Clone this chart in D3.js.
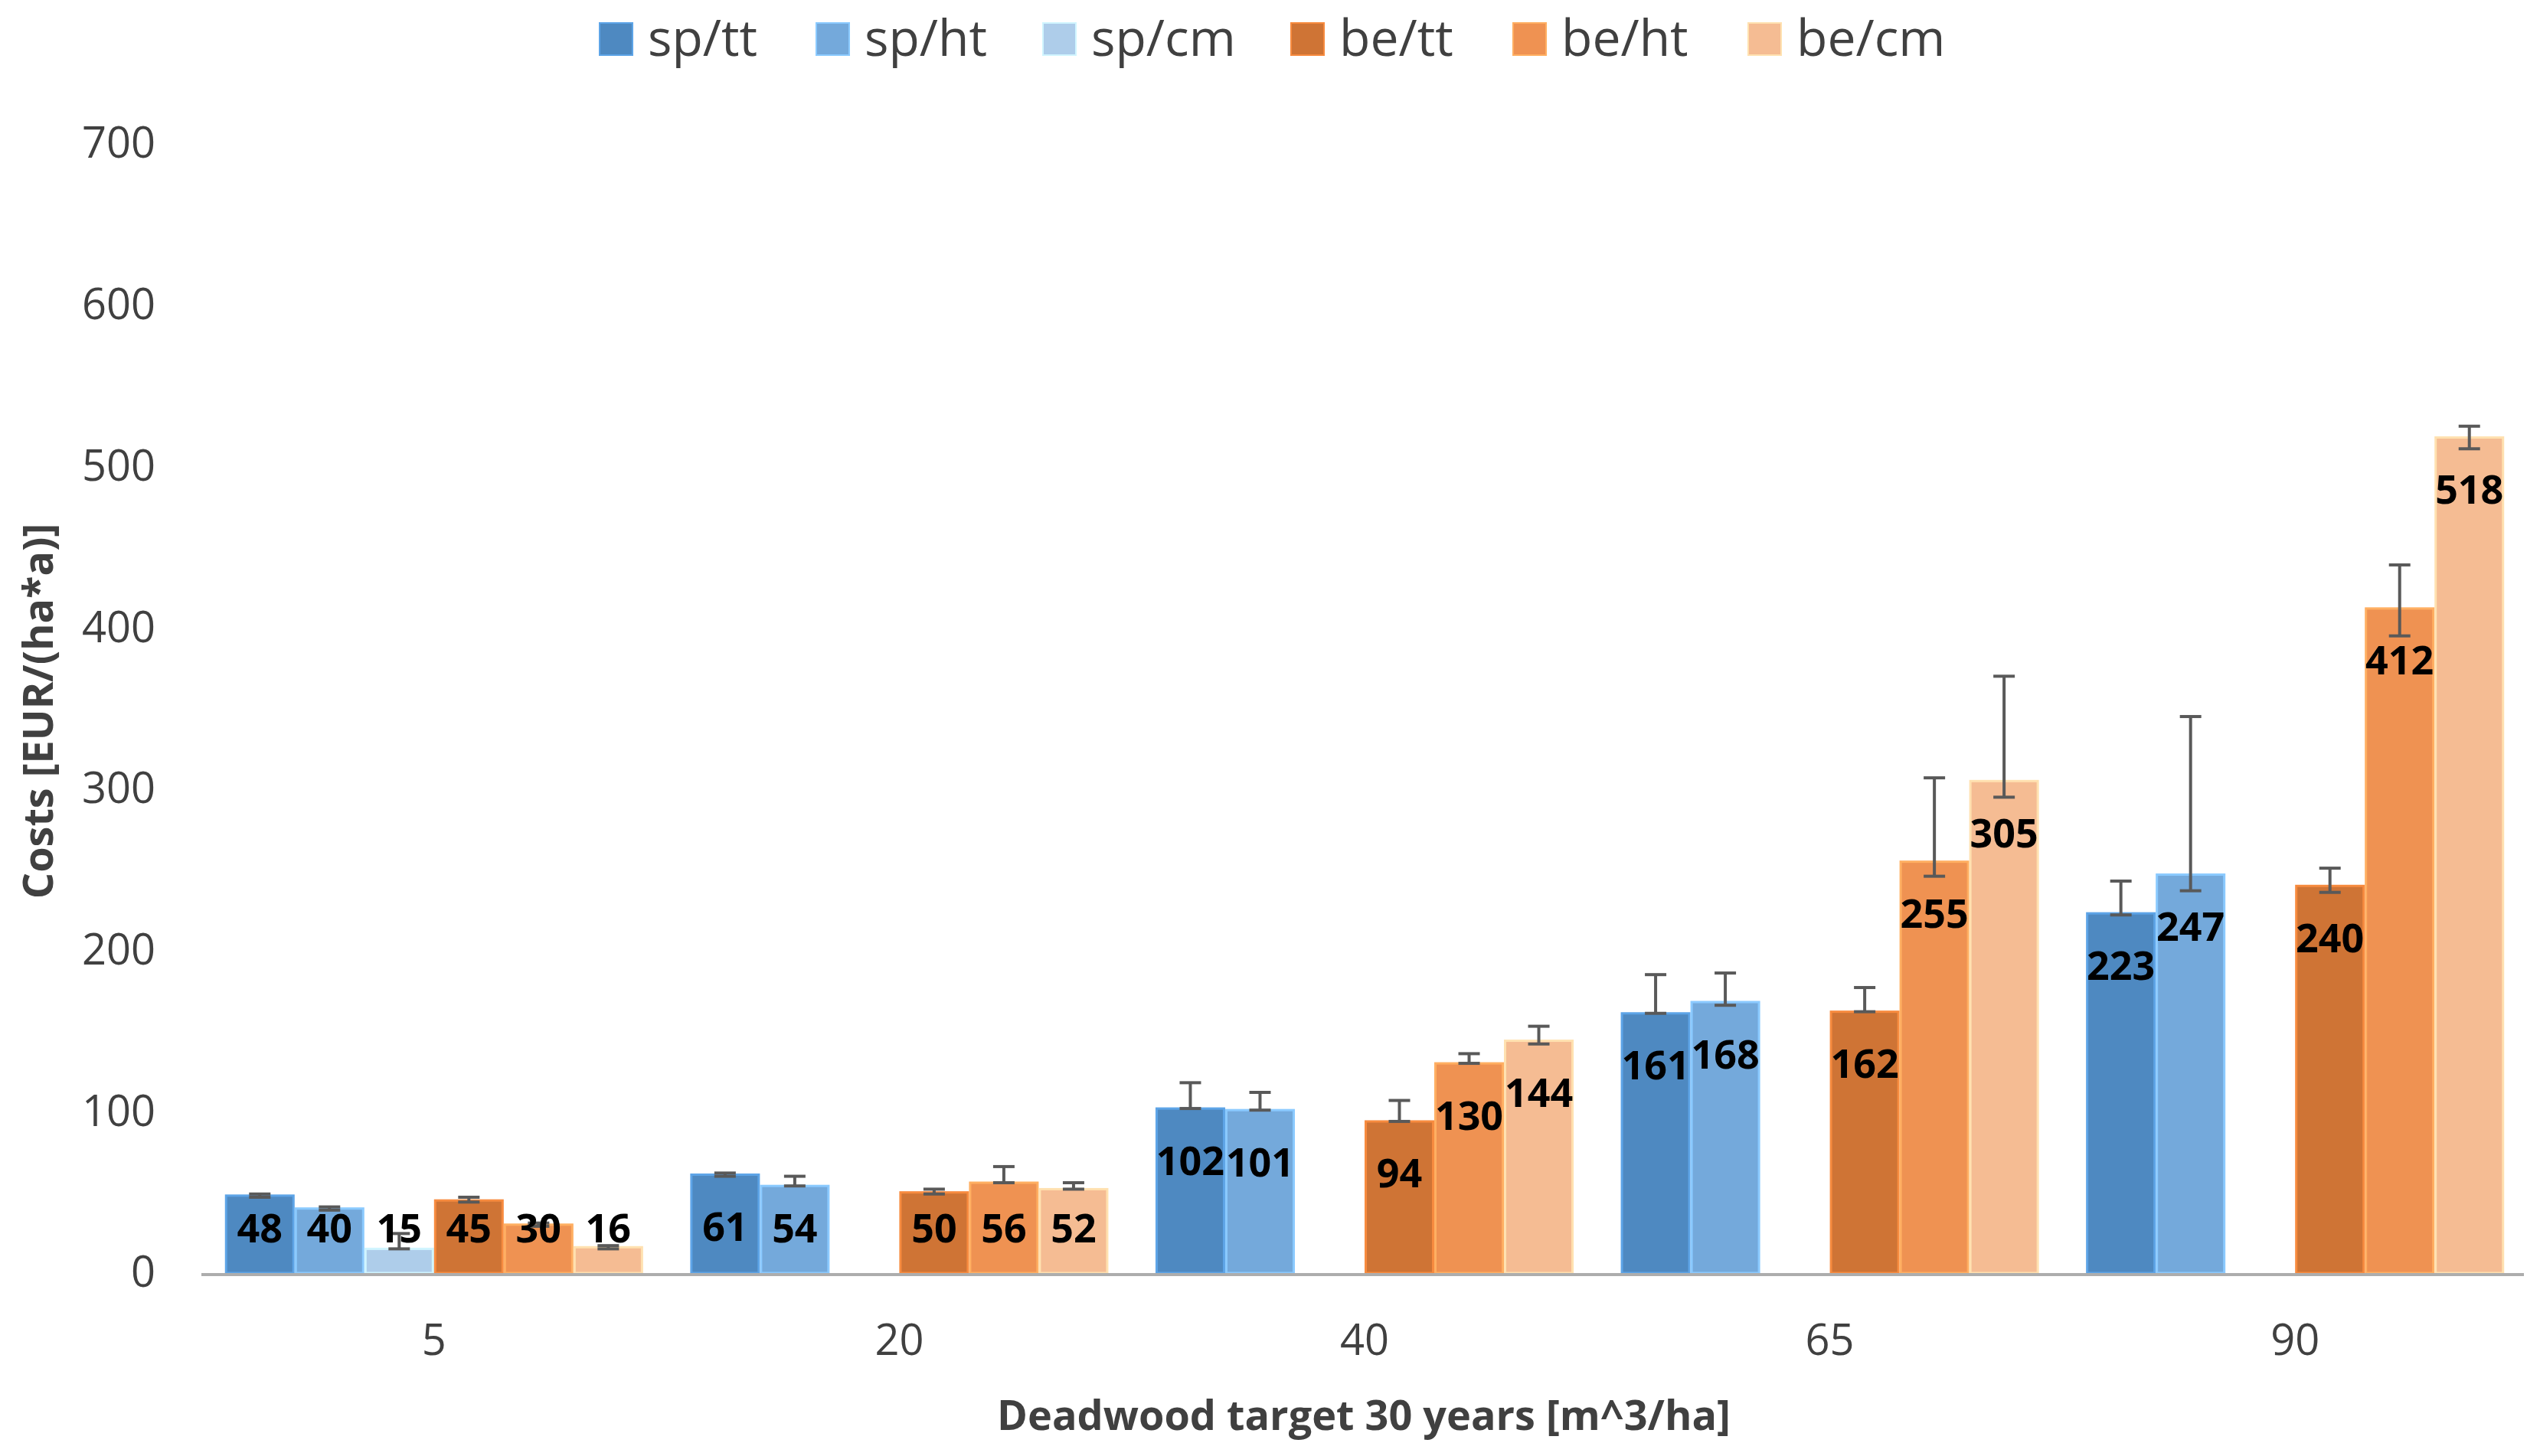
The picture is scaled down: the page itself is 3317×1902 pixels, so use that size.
<!DOCTYPE html>
<html>
<head>
<meta charset="utf-8">
<script src="https://cdn.jsdelivr.net/npm/d3@7"></script>
<style>
  body { margin: 0; background: #fff; }
  svg { display: block; font-family: "Open Sans", sans-serif; }
</style>
</head>
<body>
<div id="chart"></div>
<script>
  // ============================================
  // DATA
  // ============================================
  const categories = ["5", "20", "40", "65", "90"];
  const seriesNames = ["sp/tt", "sp/ht", "sp/cm", "be/tt", "be/ht", "be/cm"];
  const seriesColors = ["#4e89c1", "#74a9db", "#aecdea", "#cf7435", "#ef9252", "#f5bc93"];

  const spTt = [48, 61, 102, 161, 223];
  const spHt = [40, 54, 101, 168, 247];
  const spCm = [15, null, null, null, null];
  const beTt = [45, 50, 94, 162, 240];
  const beHt = [30, 56, 130, 255, 412];
  const beCm = [16, 52, 144, 305, 518];

  // error bar low / high ends
  const spTtErr = [[47, 49], [60, 62], [102, 118], [161, 185], [222, 243]];
  const spHtErr = [[39, 41], [54, 60], [101, 112], [166, 186], [237, 345]];
  const spCmErr = [[15, 24.5], null, null, null, null];
  const beTtErr = [[44, 47], [49, 52], [94, 107], [162, 177], [236, 251]];
  const beHtErr = [[29, 31], [56, 66], [130, 136], [246, 307], [395, 439]];
  const beCmErr = [[15, 17], [52, 56], [142, 153], [295, 370], [511, 525]];

  const yTicks = [0, 100, 200, 300, 400, 500, 600, 700];
  const xTitle = "Deadwood target 30 years [m^3/ha]";
  const yTitle = "Costs [EUR/(ha*a)]";

  const allValues = [spTt, spHt, spCm, beTt, beHt, beCm];
  const allErrors = [spTtErr, spHtErr, spCmErr, beTtErr, beHtErr, beCmErr];

  // ============================================
  // CHART
  // ============================================
  const width = 3317, height = 1902;
  const plot = { left: 263, right: 3301, top: 188, bottom: 1663 };
  const textColor = "#404040";

  const svg = d3.select("#chart").append("svg")
    .attr("width", width)
    .attr("height", height);

  const x0 = d3.scaleBand().domain(categories).range([plot.left, plot.right]).padding(0);
  const x1 = d3.scaleBand().domain(seriesNames).range([0, x0.bandwidth()])
    .paddingInner(0).paddingOuter(0.338);
  const y = d3.scaleLinear().domain([0, 700]).range([plot.bottom, plot.top]);
  const color = d3.scaleOrdinal().domain(seriesNames).range(seriesColors);

  // y tick labels (no grid, no axis line)
  svg.append("g")
    .attr("transform", `translate(${plot.left},0)`)
    .call(d3.axisLeft(y).tickValues(yTicks).tickSize(0).tickPadding(60))
    .call(g => g.select(".domain").remove())
    .call(g => g.selectAll("text")
      .attr("font-family", "Open Sans, sans-serif")
      .attr("font-size", 56)
      .attr("fill", textColor));

  // flatten bars
  const bars = [];
  seriesNames.forEach((s, si) => {
    categories.forEach((c, ci) => {
      const v = allValues[si][ci];
      if (v == null) return;
      bars.push({ series: s, cat: c, value: v, err: allErrors[si][ci] });
    });
  });

  svg.append("g").selectAll("rect")
    .data(bars)
    .join("rect")
    .attr("x", d => x0(d.cat) + x1(d.series) + 1.5)
    .attr("y", d => y(d.value))
    .attr("width", x1.bandwidth() - 3)
    .attr("height", d => y(0) - y(d.value))
    .attr("fill", d => color(d.series))
    .attr("stroke", d => d3.color(color(d.series)).brighter(0.5))
    .attr("stroke-width", 3);

  // x axis line
  svg.append("line")
    .attr("x1", plot.left).attr("x2", plot.right - 5)
    .attr("y1", y(0) + 2).attr("y2", y(0) + 2)
    .attr("stroke", "#adadad")
    .attr("stroke-width", 4);

  // error bars
  const errG = svg.append("g")
    .attr("stroke", "#595959")
    .attr("stroke-width", 4);
  const capHalf = 14;
  bars.filter(d => d.err).forEach(d => {
    const cx = x0(d.cat) + x1(d.series) + x1.bandwidth() / 2;
    const lo = y(d.err[0]), hi = y(d.err[1]);
    errG.append("line").attr("x1", cx).attr("x2", cx).attr("y1", lo).attr("y2", hi);
    errG.append("line").attr("x1", cx - capHalf).attr("x2", cx + capHalf).attr("y1", lo).attr("y2", lo);
    errG.append("line").attr("x1", cx - capHalf).attr("x2", cx + capHalf).attr("y1", hi).attr("y2", hi);
  });

  // data labels
  svg.append("g").selectAll("text")
    .data(bars)
    .join("text")
    .attr("x", d => x0(d.cat) + x1(d.series) + x1.bandwidth() / 2)
    .attr("y", d => Math.min(y(d.value) + 66, y(0) - 61))
    .attr("text-anchor", "middle")
    .attr("dominant-baseline", "central")
    .attr("font-family", "Open Sans, sans-serif")
    .attr("font-weight", "bold")
    .attr("font-size", 52)
    .attr("fill", "#000")
    .text(d => d.value);

  // x category labels
  svg.append("g").selectAll("text")
    .data(categories)
    .join("text")
    .attr("x", d => x0(d) + x0.bandwidth() / 2)
    .attr("y", 1748)
    .attr("text-anchor", "middle")
    .attr("dominant-baseline", "central")
    .attr("font-size", 56)
    .attr("fill", textColor)
    .text(d => d);

  // axis titles
  svg.append("text")
    .attr("x", 1781).attr("y", 1847)
    .attr("text-anchor", "middle")
    .attr("dominant-baseline", "central")
    .attr("font-weight", "bold")
    .attr("font-size", 54)
    .attr("fill", textColor)
    .text(xTitle);

  svg.append("text")
    .attr("transform", "translate(48,929) rotate(-90)")
    .attr("text-anchor", "middle")
    .attr("dominant-baseline", "central")
    .attr("font-weight", "bold")
    .attr("font-size", 54)
    .attr("fill", textColor)
    .text(yTitle);

  // legend
  const legendX = [783, 1066, 1362, 1686, 1976, 2283];
  const legend = svg.append("g").selectAll("g")
    .data(seriesNames)
    .join("g")
    .attr("transform", (d, i) => `translate(${legendX[i]},0)`);
  legend.append("rect")
    .attr("x", 0).attr("y", 30)
    .attr("width", 43).attr("height", 42)
    .attr("fill", d => color(d))
    .attr("stroke", d => d3.color(color(d)).brighter(0.5))
    .attr("stroke-width", 2);
  legend.append("text")
    .attr("x", 63).attr("y", 73)
    .attr("font-size", 66)
    .attr("fill", textColor)
    .text(d => d);
</script>
</body>
</html>
